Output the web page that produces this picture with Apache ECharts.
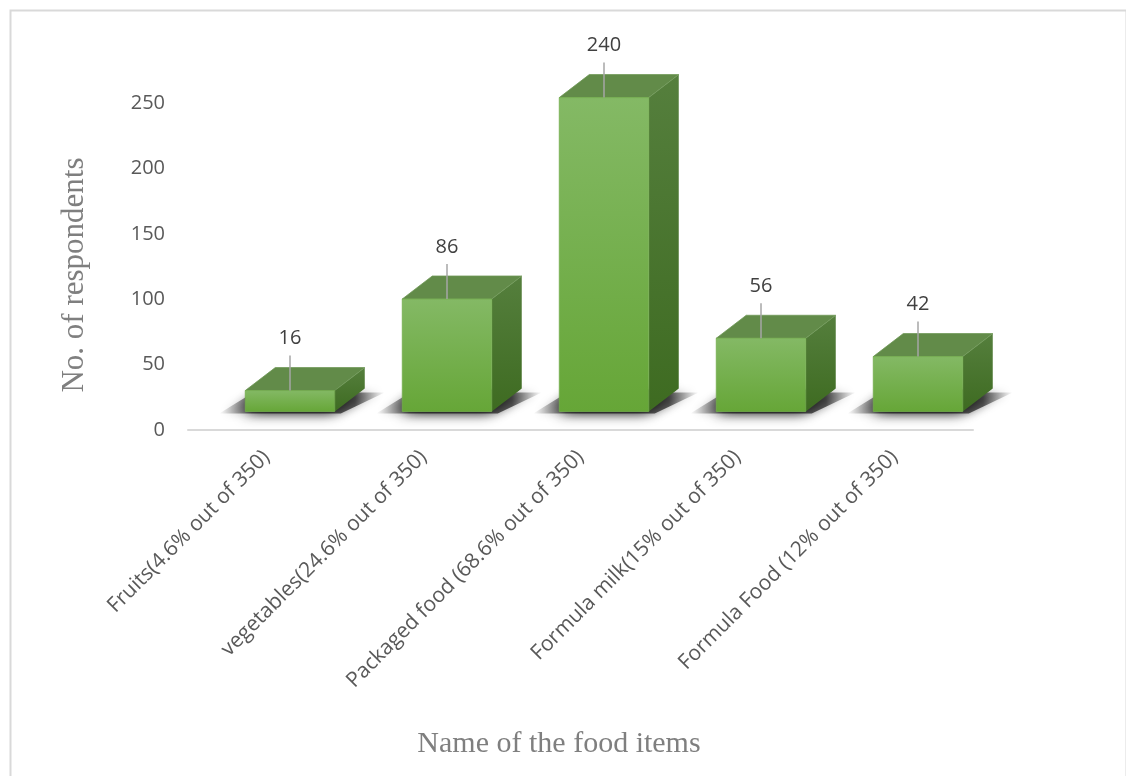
<!DOCTYPE html>
<html>
<head>
<meta charset="utf-8">
<script src="https://cdn.jsdelivr.net/npm/echarts@6/dist/echarts.min.js"></script>
<style>
  html, body { margin: 0; padding: 0; background: #ffffff; }
  #chart { width: 1126px; height: 776px; }
</style>
</head>
<body>
<div id="chart"></div>
<script>
// Survey data: food items given to children and number of respondents
const categories = [
  'Fruits(4.6% out of 350)',
  'vegetables(24.6% out of 350)',
  'Packaged food (68.6% out of 350)',
  'Formula milk(15% out of 350)',
  'Formula Food (12% out of 350)'
];
const respondents = [16, 86, 240, 56, 42];
const yTicks = [0, 50, 100, 150, 200, 250];

const chart = echarts.init(document.getElementById('chart'));

// Projection of the 3D boxes: front face sits set back from the axis plane,
// and the depth vector runs up and to the right.
const FRONT_DX = 23.5, FRONT_DY = -18.5;
const DEPTH_DX = 30, DEPTH_DY = -23;
const BAR_RATIO = 0.57;

function renderBox(params, api) {
  const idx = api.value(0);
  const val = api.value(1);
  const base = api.coord([idx, 0]);
  const top = api.coord([idx, val]);
  const band = api.size([1, 0])[0];
  const w = band * BAR_RATIO;
  const cx = base[0] + FRONT_DX;
  const x0 = cx - w / 2, x1 = cx + w / 2;
  const yb = base[1] + FRONT_DY;
  const yt = top[1] + FRONT_DY;

  const front = new echarts.graphic.LinearGradient(0, 0, 0, 1, [
    { offset: 0, color: '#84b965' },
    { offset: 1, color: '#66a637' }
  ]);
  const side = new echarts.graphic.LinearGradient(0, 0, 0, 1, [
    { offset: 0, color: '#557f3d' },
    { offset: 1, color: '#3e6b21' }
  ]);
  const floorShade = new echarts.graphic.LinearGradient(0, 0, 1, 0, [
    { offset: 0, color: 'rgba(0,0,0,0)' },
    { offset: 0.2, color: 'rgba(0,0,0,0.6)' },
    { offset: 0.82, color: 'rgba(0,0,0,0.6)' },
    { offset: 1, color: 'rgba(0,0,0,0)' }
  ]);

  return {
    type: 'group',
    children: [
      // soft floor shadow cast around the box footprint
      {
        type: 'polygon',
        shape: { points: [
          [x0 - 26, yb + 2], [x1 + 6, yb + 2],
          [x1 + DEPTH_DX + 20, yb + DEPTH_DY + 4], [x0 + DEPTH_DX - 22, yb + DEPTH_DY + 4]
        ] },
        style: {
          fill: floorShade,
          shadowBlur: 8,
          shadowColor: 'rgba(0,0,0,0.5)'
        }
      },
      {
        type: 'polygon',
        shape: { points: [
          [x0 + 2, yb - 1], [x1, yb - 1],
          [x1 + DEPTH_DX - 2, yb + DEPTH_DY + 1], [x0 + DEPTH_DX, yb + DEPTH_DY + 1]
        ] },
        style: {
          fill: '#3a3a3a',
          shadowBlur: 14,
          shadowColor: 'rgba(0,0,0,0.9)',
          shadowOffsetX: -4,
          shadowOffsetY: 2
        }
      },
      // right side face
      {
        type: 'polygon',
        shape: { points: [
          [x1, yb], [x1 + DEPTH_DX, yb + DEPTH_DY],
          [x1 + DEPTH_DX, yt + DEPTH_DY], [x1, yt]
        ] },
        style: { fill: side }
      },
      // top face
      {
        type: 'polygon',
        shape: { points: [
          [x0, yt], [x1, yt],
          [x1 + DEPTH_DX, yt + DEPTH_DY], [x0 + DEPTH_DX, yt + DEPTH_DY]
        ] },
        style: { fill: '#628b49', stroke: '#6f9857', lineWidth: 0.8 }
      },
      // front face
      {
        type: 'rect',
        shape: { x: x0, y: yt, width: w, height: yb - yt },
        style: { fill: front, stroke: '#74ad4e', lineWidth: 0.8 }
      },
      // leader line to the value label
      {
        type: 'line',
        shape: { x1: cx, y1: yt, x2: cx, y2: yt - 35 },
        style: { stroke: '#a6a6a6', lineWidth: 1.5 }
      },
      // value label
      {
        type: 'text',
        style: {
          text: String(val),
          x: cx, y: yt - 52,
          align: 'center', verticalAlign: 'middle',
          fill: '#404040',
          font: '20px "Open Sans"'
        }
      }
    ]
  };
}

chart.setOption({
  backgroundColor: '#ffffff',
  animation: false,
  grid: { left: 188, right: 153, top: 103, bottom: 346, containLabel: false },
  xAxis: {
    type: 'category',
    data: categories,
    axisLine: { show: true, lineStyle: { color: '#d9d9d9', width: 2 } },
    axisTick: { show: false },
    axisLabel: {
      rotate: 45,
      interval: 0,
      margin: 24,
      color: '#595959',
      fontFamily: 'Open Sans',
      fontSize: 21
    }
  },
  yAxis: {
    type: 'value',
    min: yTicks[0],
    max: yTicks[yTicks.length - 1],
    interval: 50,
    axisLine: { show: false },
    axisTick: { show: false },
    splitLine: { show: false },
    axisLabel: {
      margin: 23,
      color: '#595959',
      fontFamily: 'Open Sans',
      fontSize: 20
    }
  },
  graphic: [
    {
      type: 'rect',
      left: 8, top: 8,
      shape: { width: 1116, height: 800 },
      style: { fill: 'none', stroke: '#d9d9d9', lineWidth: 2 },
      silent: true
    },
    {
      type: 'text',
      x: 75, y: 275,
      rotation: Math.PI / 2,
      style: {
        text: 'No. of respondents',
        align: 'center', verticalAlign: 'middle',
        fill: '#7f7f7f',
        font: '31px "Liberation Serif"'
      }
    },
    {
      type: 'text',
      x: 559, y: 744,
      style: {
        text: 'Name of the food items',
        align: 'center', verticalAlign: 'middle',
        fill: '#7f7f7f',
        font: '30px "Liberation Serif"'
      }
    }
  ],
  series: [{
    type: 'custom',
    renderItem: renderBox,
    clip: false,
    encode: { x: 0, y: 1 },
    data: respondents.map((v, i) => [i, v])
  }]
});
</script>
</body>
</html>
